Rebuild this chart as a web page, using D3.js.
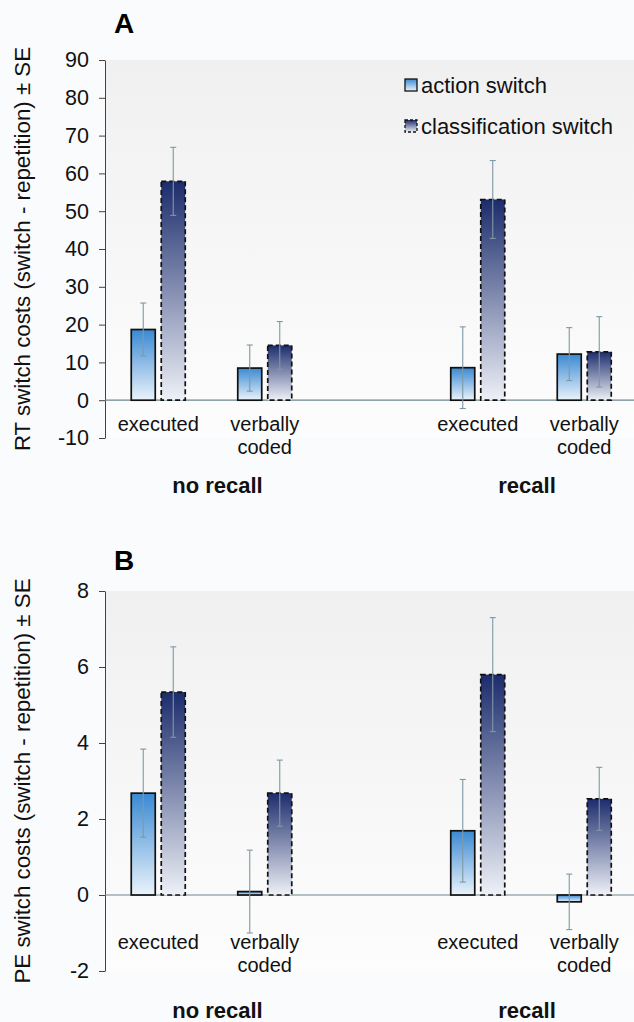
<!DOCTYPE html>
<html>
<head>
<meta charset="utf-8">
<script src="https://cdn.jsdelivr.net/npm/d3@7"></script>
<style>
  html, body { margin: 0; padding: 0; background: #fafbfd; }
  svg { display: block; font-family: "Liberation Sans", Arial, sans-serif; }
</style>
</head>
<body>
<div id="chart"></div>
<script>
'use strict';

// --- data ---
const recallGroups = ['no recall', 'recall'];
const encodings = ['executed', 'verbally coded'];
const switchTypes = ['action switch', 'classification switch'];

// order: no recall/executed, no recall/verbal, recall/executed, recall/verbal
const rtAction = [18.7, 8.5, 8.6, 12.2];
const rtActionSE = [7.0, 6.1, 10.8, 7.0];
const rtClass = [57.9, 14.5, 53.1, 12.8];
const rtClassSE = [9.0, 6.3, 10.3, 9.3];
const rtTicks = [-10, 0, 10, 20, 30, 40, 50, 60, 70, 80, 90];

const peAction = [2.68, 0.09, 1.69, -0.18];
const peActionSE = [1.16, 1.09, 1.35, 0.73];
const peClass = [5.34, 2.68, 5.80, 2.53];
const peClassSE = [1.19, 0.87, 1.50, 0.83];
const peTicks = [-2, 0, 2, 4, 6, 8];

const W = 634, H = 1022;
const svg = d3.select('#chart').append('svg')
  .attr('width', W).attr('height', H);

svg.append('rect').attr('width', W).attr('height', H).attr('fill', '#fafbfd');

const defs = svg.append('defs');
function vGrad(id, top, bottom) {
  const g = defs.append('linearGradient').attr('id', id)
    .attr('x1', 0).attr('y1', 0).attr('x2', 0).attr('y2', 1);
  g.append('stop').attr('offset', '0%').attr('stop-color', top);
  g.append('stop').attr('offset', '100%').attr('stop-color', bottom);
}
vGrad('gAction', '#3a89d2', '#eaf3fb');
vGrad('gClass', '#1c2c6c', '#eef1f7');
vGrad('gPlot', '#f0f0f0', '#fdfdfd');

const FILL = { 'action switch': 'url(#gAction)', 'classification switch': 'url(#gClass)' };
const DASH = { 'action switch': null, 'classification switch': '5,3' };

// slots along x: two groups of two, one empty slot between
const slots = ['nr-exec', 'nr-verb', 'gap', 'r-exec', 'r-verb'];
const slotOf = i => ['nr-exec', 'nr-verb', 'r-exec', 'r-verb'][i];
const axisX = 105;
const x = d3.scaleBand().domain(slots).range([axisX, axisX + 532.5]);
const inner = d3.scaleBand().domain(switchTypes).range([-27, 27]).paddingInner(0.2);

function drawPanel(cfg) {
  const y = d3.scaleLinear().domain(cfg.domain).range([cfg.bottom, cfg.top]);
  const g = svg.append('g');

  g.append('rect')
    .attr('x', axisX).attr('y', cfg.top)
    .attr('width', W - axisX).attr('height', cfg.bottom - cfg.top)
    .attr('fill', 'url(#gPlot)');

  // panel letter
  g.append('text')
    .attr('x', 124).attr('y', cfg.letterY)
    .attr('text-anchor', 'middle')
    .attr('font-size', 28).attr('font-weight', 'bold')
    .text(cfg.letter);

  // y axis
  const ax = g.append('g')
    .attr('transform', `translate(${axisX},0)`)
    .call(d3.axisLeft(y).tickValues(cfg.ticks).tickFormat(d => String(d))
      .tickSize(6).tickPadding(10).tickSizeOuter(0));
  ax.select('.domain').attr('stroke', '#4a4038').attr('stroke-width', 1);
  ax.selectAll('.tick line').attr('stroke', '#4a4038');
  ax.selectAll('.tick text')
    .attr('font-size', 21.5).attr('fill', '#111')
    .attr('font-family', '"Liberation Sans", Arial, sans-serif');

  g.append('text')
    .attr('transform', `translate(30,${(cfg.top + cfg.bottom) / 2}) rotate(-90)`)
    .attr('text-anchor', 'middle')
    .attr('font-size', 22.3).attr('fill', '#111')
    .text(cfg.title);

  // zero line
  g.append('line')
    .attr('x1', axisX).attr('x2', W)
    .attr('y1', y(0)).attr('y2', y(0))
    .attr('stroke', '#6d8790').attr('stroke-width', 1.2);

  const series = [
    { type: 'action switch', vals: cfg.action, se: cfg.actionSE },
    { type: 'classification switch', vals: cfg.cls, se: cfg.clsSE }
  ];

  series.forEach(s => {
    s.vals.forEach((v, i) => {
      const cx = x(slotOf(i)) + x.bandwidth() / 2;
      const bx = cx + inner(s.type);
      const y0 = y(0), yv = y(v);
      g.append('rect')
        .attr('x', bx).attr('y', Math.min(y0, yv))
        .attr('width', inner.bandwidth())
        .attr('height', Math.abs(y0 - yv))
        .attr('fill', FILL[s.type])
        .attr('stroke', '#111').attr('stroke-width', 1.7)
        .attr('stroke-dasharray', DASH[s.type]);

      const ex = bx + inner.bandwidth() / 2;
      const eTop = y(v + s.se[i]), eBot = y(v - s.se[i]);
      const eb = g.append('g').attr('stroke', '#7f98a6').attr('stroke-width', 1.1);
      eb.append('line').attr('x1', ex).attr('x2', ex).attr('y1', eTop).attr('y2', eBot);
      eb.append('line').attr('x1', ex - 3).attr('x2', ex + 3).attr('y1', eTop).attr('y2', eTop);
      eb.append('line').attr('x1', ex - 3).attr('x2', ex + 3).attr('y1', eBot).attr('y2', eBot);
    });
  });

  // category labels
  [0, 1, 2, 3].forEach(i => {
    const cx = x(slotOf(i)) + x.bandwidth() / 2;
    const enc = encodings[i % 2];
    const t = g.append('text')
      .attr('x', cx).attr('y', cfg.catY)
      .attr('text-anchor', 'middle')
      .attr('font-size', 20).attr('fill', '#111');
    if (enc === 'verbally coded') {
      t.append('tspan').attr('x', cx).text('verbally');
      t.append('tspan').attr('x', cx).attr('dy', 23).text('coded');
    } else {
      t.text(enc);
    }
  });

  recallGroups.forEach((r, k) => {
    const a = x(slotOf(k * 2)) + x.bandwidth() / 2;
    const b = x(slotOf(k * 2 + 1)) + x.bandwidth() / 2;
    g.append('text')
      .attr('x', (a + b) / 2 + (k === 0 ? 6 : -4)).attr('y', cfg.groupY)
      .attr('text-anchor', 'middle')
      .attr('font-size', 22).attr('font-weight', 'bold').attr('fill', '#111')
      .text(r);
  });

  if (cfg.legend) {
    switchTypes.forEach((s, k) => {
      const ly = 85 + k * 41;
      g.append('rect')
        .attr('x', 405).attr('y', ly - 6).attr('width', 12).attr('height', 12)
        .attr('fill', FILL[s]).attr('stroke', '#111').attr('stroke-width', 1.3)
        .attr('stroke-dasharray', DASH[s] ? '3,2' : null);
      g.append('text')
        .attr('x', 421).attr('y', ly + 8)
        .attr('font-size', 22).attr('fill', '#111')
        .text(s);
    });
  }
}

drawPanel({
  letter: 'A', letterY: 33, domain: [-10, 90], top: 60, bottom: 438, ticks: rtTicks,
  title: 'RT switch costs (switch - repetition) \u00b1 SE',
  action: rtAction, actionSE: rtActionSE, cls: rtClass, clsSE: rtClassSE,
  catY: 431, groupY: 493, legend: true
});

drawPanel({
  letter: 'B', letterY: 570, domain: [-2, 8], top: 591, bottom: 971, ticks: peTicks,
  title: 'PE switch costs (switch - repetition) \u00b1 SE',
  action: peAction, actionSE: peActionSE, cls: peClass, clsSE: peClassSE,
  catY: 949, groupY: 1018, legend: false
});
</script>
</body>
</html>
